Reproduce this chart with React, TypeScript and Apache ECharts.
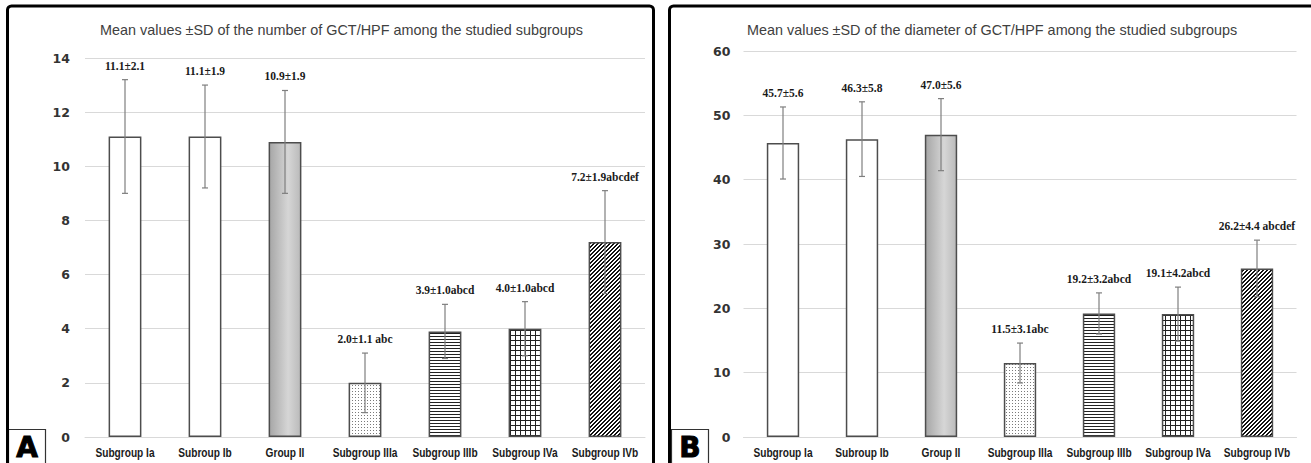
import React, { useEffect, useRef } from "react";
import * as echarts from "echarts";

const categories = [
  "Subgroup Ia",
  "Subroup Ib",
  "Group II",
  "Subgroup IIIa",
  "Subgroup IIIb",
  "Subgroup IVa",
  "Subgroup IVb",
];

// Panel A: number of GCT/HPF
const meanA = [11.1, 11.1, 10.9, 2.0, 3.9, 4.0, 7.2];
const sdA = [2.1, 1.9, 1.9, 1.1, 1.0, 1.0, 1.9];
const sigA = ["", "", "", " abc", "abcd", "abcd", "abcdef"];
const ticksA = { min: 0, max: 14, interval: 2 };
const titleA = "Mean values ±SD of the number of GCT/HPF among the studied subgroups";

// Panel B: diameter of GCT/HPF
const meanB = [45.7, 46.3, 47.0, 11.5, 19.2, 19.1, 26.2];
const sdB = [5.6, 5.8, 5.6, 3.1, 3.2, 4.2, 4.4];
const sigB = ["", "", "", "abc", "abcd", "abcd", " abcdef"];
const ticksB = { min: 0, max: 60, interval: 10 };
const titleB = "Mean values ±SD of the diameter of GCT/HPF among the studied subgroups";

const SANS = "'Liberation Sans', Arial, sans-serif";
const SERIF = "'Liberation Serif', 'Times New Roman', serif";
const AXISFONT = "'DejaVu Sans', Verdana, sans-serif";

function tile(w: number, h: number, paint: (x: number, y: number) => string | null) {
  const c = document.createElement("canvas");
  c.width = w;
  c.height = h;
  const ctx = c.getContext("2d")!;
  ctx.fillStyle = "#ffffff";
  ctx.fillRect(0, 0, w, h);
  for (let y = 0; y < h; y++) {
    for (let x = 0; x < w; x++) {
      const col = paint(x, y);
      if (col) {
        ctx.fillStyle = col;
        ctx.fillRect(x, y, 1, 1);
      }
    }
  }
  return { image: c, repeat: "repeat", imageWidth: w, imageHeight: h };
}

function makeFills() {
  const gradient = new echarts.graphic.LinearGradient(0, 0, 1, 0, [
    { offset: 0, color: "#a6a6a6" },
    { offset: 0.6, color: "#d6d6d6" },
    { offset: 1, color: "#bababa" },
  ]);
  const dots = tile(3, 3, (x, y) => (x === 1 && y === 1 ? "#7a7a7a" : null));
  const hlines = tile(1, 3, (_x, y) => (y === 0 ? "#222222" : null));
  const grid = tile(5, 5, (x, y) => (x === 0 || y === 0 ? "#222222" : null));
  const diag = tile(4, 4, (x, y) => ((x + y) % 4 < 2 ? "#111111" : null));
  return ["#ffffff", "#ffffff", gradient, dots, hlines, grid, diag];
}

// Error bars with their "mean±SD" labels above the upper cap
function errorSeries(means: number[], sds: number[], sig: string[], idx: number) {
  return {
    type: "custom",
    xAxisIndex: idx,
    yAxisIndex: idx,
    z: 5,
    data: means.map((m, i) => [i, m - sds[i], m + sds[i], `${m.toFixed(1)}±${sds[i].toFixed(1)}${sig[i]}`]),
    encode: { x: 0, y: [1, 2] },
    renderItem: (_params: any, api: any) => {
      const i = api.value(0);
      const lo = api.coord([i, api.value(1)]);
      const hi = api.coord([i, api.value(2)]);
      const cap = 3;
      const line = (x1: number, y1: number, x2: number, y2: number) => ({
        type: "line",
        shape: { x1, y1, x2, y2 },
        style: { stroke: "#7f7f7f", lineWidth: 1.2 },
      });
      return {
        type: "group",
        children: [
          line(hi[0], hi[1], lo[0], lo[1]),
          line(hi[0] - cap, hi[1], hi[0] + cap, hi[1]),
          line(lo[0] - cap, lo[1], lo[0] + cap, lo[1]),
          {
            type: "text",
            style: {
              text: String(api.value(3)),
              x: hi[0],
              y: hi[1] - 14,
              align: "center",
              verticalAlign: "middle",
              fontFamily: SERIF,
              fontWeight: "bold",
              fontSize: 11.5,
              fill: "#1a1a1a",
            },
          },
        ],
      };
    },
  };
}

// Condensed bold category names under each bar
function categoryLabelSeries(idx: number) {
  return {
    type: "custom",
    xAxisIndex: idx,
    yAxisIndex: idx,
    z: 6,
    silent: true,
    data: categories.map((c, i) => [i, 0, c]),
    encode: { x: 0, y: 1 },
    renderItem: (_params: any, api: any) => {
      const p = api.coord([api.value(0), api.value(1)]);
      return {
        type: "text",
        x: p[0],
        y: p[1] + 14.5,
        scaleX: 0.78,
        style: {
          text: String(api.value(2)),
          x: 0,
          y: 0,
          align: "center",
          verticalAlign: "middle",
          fontFamily: SANS,
          fontWeight: "bold",
          fontSize: 13,
          fill: "#1a1a1a",
        },
      };
    },
  };
}

function barSeries(means: number[], fills: any[], idx: number) {
  return {
    type: "bar",
    xAxisIndex: idx,
    yAxisIndex: idx,
    barWidth: "41%",
    z: 2,
    data: means.map((m, i) => ({
      value: m,
      itemStyle: { color: fills[i], borderColor: "#4d4d4d", borderWidth: 1.5 },
    })),
  };
}

function xAxis(idx: number) {
  return {
    type: "category",
    gridIndex: idx,
    data: categories,
    axisLine: { show: true, lineStyle: { color: "#d9d9d9", width: 1 } },
    axisTick: { show: false },
    axisLabel: { show: false },
  };
}

function yAxis(idx: number, t: { min: number; max: number; interval: number }, margin: number) {
  return {
    type: "value",
    gridIndex: idx,
    min: t.min,
    max: t.max,
    interval: t.interval,
    axisLine: { show: false },
    axisTick: { show: false },
    splitLine: { show: true, lineStyle: { color: "#d9d9d9", width: 1 } },
    axisLabel: {
      margin,
      fontFamily: AXISFONT,
      fontWeight: "bold",
      fontSize: 12.5,
      color: "#333333",
    },
  };
}

export default function App() {
  const ref = useRef<HTMLDivElement>(null);

  useEffect(() => {
    if (!ref.current) return;
    const chart = echarts.init(ref.current, null, { renderer: "svg" });
    const fills = makeFills();
    const titleStyle = { fontFamily: SANS, fontSize: 14.4, fontWeight: "normal", color: "#404040" };

    chart.setOption({
      animation: false,
      backgroundColor: "#ffffff",
      title: [
        { text: titleA, left: 100, top: 23, padding: 0, textStyle: titleStyle },
        { text: titleB, left: 747, top: 23, padding: 0, textStyle: titleStyle },
      ],
      grid: [
        { left: 85, width: 560, top: 58, bottom: 26 },
        { left: 743.5, width: 553, top: 51, bottom: 26 },
      ],
      xAxis: [xAxis(0), xAxis(1)],
      yAxis: [yAxis(0, ticksA, 15), yAxis(1, ticksB, 13)],
      series: [
        barSeries(meanA, fills, 0),
        errorSeries(meanA, sdA, sigA, 0),
        categoryLabelSeries(0),
        barSeries(meanB, fills, 1),
        errorSeries(meanB, sdB, sigB, 1),
        categoryLabelSeries(1),
      ],
      graphic: [
        {
          type: "rect",
          shape: { x: 7.5, y: 6, width: 646, height: 480, r: 4 },
          style: { fill: "none", stroke: "#000000", lineWidth: 3 },
          z: 10,
        },
        {
          type: "rect",
          shape: { x: 669.5, y: 6, width: 660, height: 480, r: 4 },
          style: { fill: "none", stroke: "#000000", lineWidth: 3 },
          z: 10,
        },
        {
          type: "group",
          z: 11,
          children: [
            {
              type: "rect",
              shape: { x: 8.5, y: 429.5, width: 37, height: 40 },
              style: { fill: "#ffffff", stroke: "#333333", lineWidth: 1.2 },
            },
            {
              type: "text",
              style: {
                text: "A",
                x: 27,
                y: 447,
                align: "center",
                verticalAlign: "middle",
                fontFamily: AXISFONT,
                fontWeight: "bold",
                fontSize: 28,
                fill: "#000000",
                stroke: "#000000",
                lineWidth: 1,
              },
            },
            {
              type: "rect",
              shape: { x: 671.5, y: 429.5, width: 37, height: 40 },
              style: { fill: "#ffffff", stroke: "#333333", lineWidth: 1.2 },
            },
            {
              type: "text",
              style: {
                text: "B",
                x: 690,
                y: 447,
                align: "center",
                verticalAlign: "middle",
                fontFamily: AXISFONT,
                fontWeight: "bold",
                fontSize: 28,
                fill: "#000000",
                stroke: "#000000",
                lineWidth: 1,
              },
            },
          ],
        },
      ],
    });

    return () => chart.dispose();
  }, []);

  return (
    <div
      ref={ref}
      style={{ position: "absolute", left: 0, top: 0, width: 1311, height: 463, background: "#ffffff" }}
    />
  );
}
